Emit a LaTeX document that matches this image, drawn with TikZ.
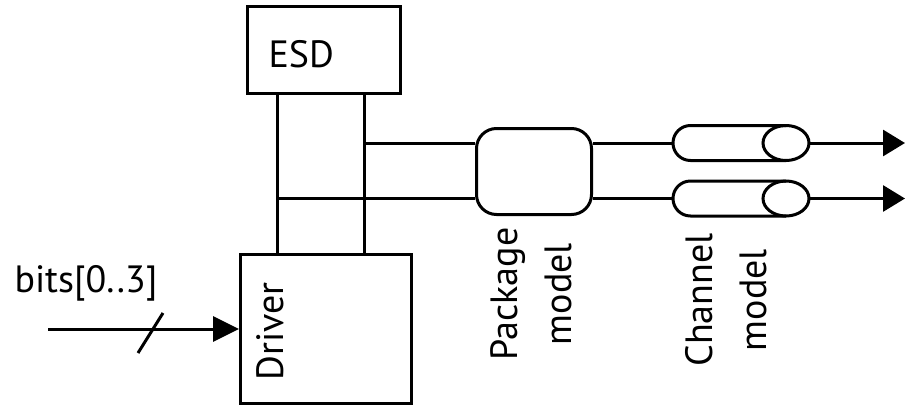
\documentclass[tikz,border=0pt]{standalone}
\usepackage{fontspec}
\setmainfont{PT Sans}
\usetikzlibrary{arrows.meta}
\begin{document}
\begin{tikzpicture}[x=1pt,y=-1pt, line width=3pt,
  box/.style={draw, line width=3pt, inner sep=0pt},
  lbl/.style={font=\fontsize{38}{54}\selectfont, inner sep=0pt},
  outarr/.style={-{Triangle[length=22pt,width=26pt]}},
  inarr/.style={-{Triangle[length=26pt,width=25pt]}},
]
\useasboundingbox (0,0) rectangle (906,408);
% boxes
\node[box, minimum width=153pt, minimum height=87pt] (esd) at (324,50) {};
\node[lbl, anchor=base west] (esdt) at (267,67) {ESD};
\node[box, minimum width=171pt, minimum height=149pt] (drv) at (326,329) {};
\node[lbl, rotate=90, anchor=base] (drvt) at (283,331.5) {Driver};
\node[box, rounded corners=20pt, minimum width=115pt, minimum height=86pt] (pkg) at (534,171.5) {};
\node[lbl, rotate=90, align=center] (pkgt) at (531,294) {Package\\model};
\node[lbl, rotate=90, align=center] (cht) at (726,300) {Channel\\model};
% coordinates
\coordinate (v1) at (277,0);
\coordinate (v2) at (364,0);
\coordinate (j1) at (364,143);
\coordinate (j2) at (277,198.5);
\coordinate (c1w) at (673,143);
\coordinate (c1e) at (809,143);
\coordinate (c2w) at (673,198.5);
\coordinate (c2e) at (809,198.5);
\coordinate (o1) at (905,143);
\coordinate (o2) at (905,198.5);
\coordinate (bin) at (48,329);
\coordinate (s1) at (138,353);
\coordinate (s2) at (163,313);
% vertical bus
\draw (esd.south -| v1) -- (drv.north -| v1);
\draw (esd.south -| v2) -- (drv.north -| v2);
% horizontal lines to package
\draw (j1) -- (pkg.west |- j1);
\draw (j2) -- (pkg.west |- j2);
% package to channels
\draw (pkg.east |- c1w) -- (c1w);
\draw (pkg.east |- c2w) -- (c2w);
% channels
\draw (786,125.5) -- (690.5,125.5) arc[start angle=90,end angle=270,radius=17.5pt] -- (786,160.5);
\draw (786,143) ellipse[x radius=23pt, y radius=17.5pt];
\draw (786,181) -- (690.5,181) arc[start angle=90,end angle=270,radius=17.5pt] -- (786,216);
\draw (786,198.5) ellipse[x radius=23pt, y radius=17.5pt];
% outputs
\draw[outarr] (c1e) -- (o1);
\draw[outarr] (c2e) -- (o2);
% input
\draw[inarr] (bin) -- (drv.west |- bin);
\draw (s1) -- (s2);
\node[lbl, anchor=base west] (bitst) at (13,292) {bits[0..3]};
\end{tikzpicture}
\end{document}
